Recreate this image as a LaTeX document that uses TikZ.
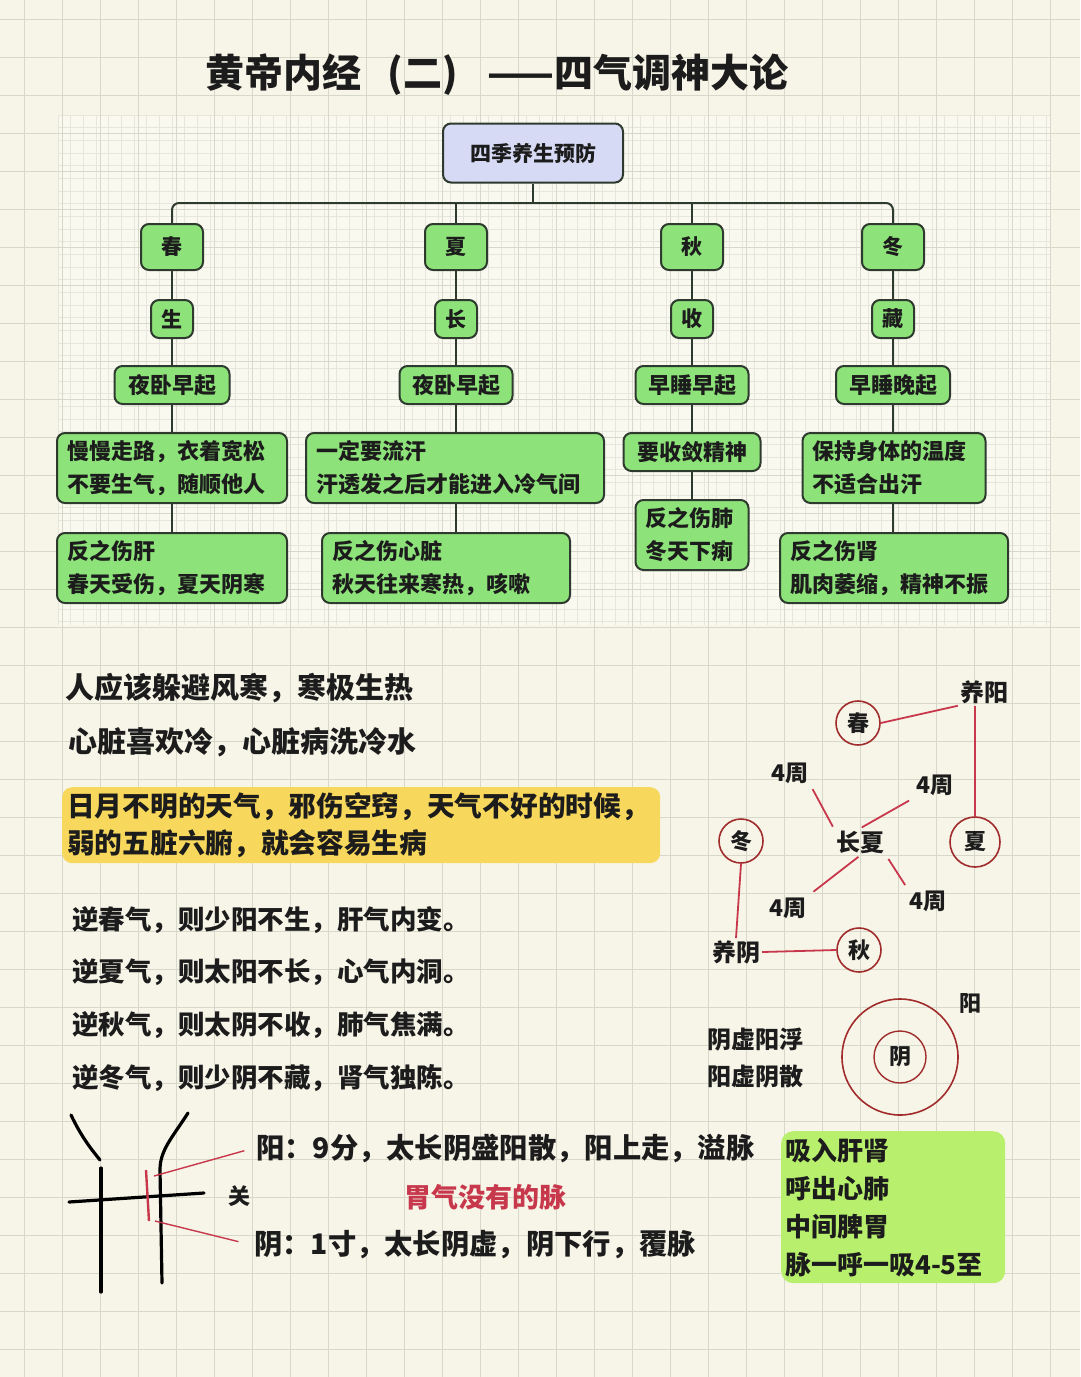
\documentclass[tikz,border=0pt]{standalone}
\usepackage{fontspec}
\setmainfont{Noto Sans CJK SC}
\usepackage{xcolor}
\usetikzlibrary{positioning,calc}

\definecolor{paper}{RGB}{247,245,232}
\definecolor{paperhi}{RGB}{250,249,240}
\definecolor{gridc}{RGB}{216,216,202}
\definecolor{finec}{RGB}{230,230,220}
\definecolor{leafgreen}{RGB}{142,226,122}
\definecolor{rootblue}{RGB}{214,218,244}
\definecolor{boxline}{RGB}{45,58,45}
\definecolor{noteyellow}{RGB}{248,216,92}
\definecolor{limegreen}{RGB}{184,240,110}
\definecolor{inkred}{RGB}{200,56,76}
\definecolor{ringred}{RGB}{160,44,44}
\definecolor{ink}{RGB}{28,28,28}

\newcommand{\pxsize}[2]{\fontsize{#1pt}{#2pt}\selectfont\bfseries}

\begin{document}
\begin{tikzpicture}[
  x=1pt, y=-1pt,
  every node/.style={text=ink},
  tbox/.style={draw=boxline, line width=2pt, fill=leafgreen, rounded corners=8pt,
    inner sep=0pt, font=\pxsize{21}{30}},
  season/.style={tbox, minimum width=62pt, minimum height=46pt},
  verb/.style={tbox, minimum width=42pt, minimum height=38pt},
  habit/.style={tbox, minimum height=38pt, font=\pxsize{22}{30}},
  tip/.style={tbox, align=left, inner xsep=10pt, minimum height=70pt, font=\pxsize{22}{33}},
  link/.style={draw=boxline, line width=2pt},
  gridline/.style={draw=gridc, line width=0.8pt},
  fineline/.style={draw=finec, line width=0.5pt},
  say/.style={anchor=west, inner sep=2pt},
  ring/.style={circle, draw=ringred, line width=1.6pt, minimum size=44pt, inner sep=0pt,
    font=\pxsize{22}{22}},
  plain/.style={inner sep=2pt, font=\pxsize{24}{24}},
  redline/.style={draw=inkred, line width=1.8pt},
  pulse/.style={draw=black, line width=3.2pt, line cap=round},
]

% paper and grid
\useasboundingbox (0,0) rectangle (1080,1377);
\fill[paper] (0,0) rectangle (1080,1377);
\fill[paperhi] (58,115) rectangle (1050,625);
\foreach \k in {0,...,78}
  \draw[fineline] ({58+\k*12.667},115) -- ({58+\k*12.667},625);
\foreach \k in {0,...,40}
  \draw[fineline] (58,{115+\k*12.667}) -- (1050,{115+\k*12.667});
\foreach \gx in {24,62,...,1062}
  \draw[gridline] (\gx,0) -- (\gx,1377);
\foreach \gy in {19,57,...,1349}
  \draw[gridline] (0,\gy) -- (1080,\gy);

% title
\node[font=\pxsize{39}{39}] (title) at (497,75)
  {黄帝内经\hspace{26pt}(二)\hspace{30pt}——四气调神大论};

% season tree
\node[tbox, fill=rootblue, minimum width=180pt, minimum height=59pt] (root) at (533,153) {四季养生预防};
\coordinate (bus) at (533,203);

\node[season] (chun) at (172,247) {春};
\node[season] (xia)  at (456,247) {夏};
\node[season] (qiu)  at (692,247) {秋};
\node[season] (dong) at (893,247) {冬};

\node[verb] (sheng) at (172,319) {生};
\node[verb] (zhang) at (456,319) {长};
\node[verb] (shou)  at (692,319) {收};
\node[verb] (cang)  at (893,319) {藏};

\node[habit, minimum width=115pt] (wo1) at (172,385) {夜卧早起};
\node[habit, minimum width=113pt] (wo2) at (456,385) {夜卧早起};
\node[habit, minimum width=113pt] (wo3) at (692,385) {早睡早起};
\node[habit, minimum width=114pt] (wo4) at (893,385) {早睡晚起};

\node[tip, text width=210pt] (do1) at (172,468) {慢慢走路，衣着宽松\\不要生气，随顺他人};
\node[tip, text width=278pt] (do2) at (455,468) {一定要流汗\\汗透发之后才能进入冷气间};
\node[habit, minimum width=137pt] (do3) at (692,452) {要收敛精神};
\node[tip, text width=163pt] (do4) at (894,468) {保持身体的温度\\不适合出汗};

\node[tip, text width=210pt] (hurt1) at (172,568) {反之伤肝\\春天受伤，夏天阴寒};
\node[tip, text width=228pt] (hurt2) at (446,568) {反之伤心脏\\秋天往来寒热，咳嗽};
\node[tip, text width=93pt]  (hurt3) at (692,535) {反之伤肺\\冬天下痢};
\node[tip, text width=208pt] (hurt4) at (894,568) {反之伤肾\\肌肉萎缩，精神不振};

\draw[link] (root) -- (bus);
\draw[link, rounded corners=7pt] (chun.north) |- (bus) -| (dong.north);
\draw[link] (xia.north) -- (xia.north |- bus);
\draw[link] (qiu.north) -- (qiu.north |- bus);
\draw[link] (chun) -- (sheng);
\draw[link] (sheng) -- (wo1);
\draw[link] (wo1) -- (do1);
\draw[link] (do1) -- (hurt1);
\draw[link] (xia) -- (zhang);
\draw[link] (zhang) -- (wo2);
\draw[link] (wo2) -- (wo2 |- do2.north);
\draw[link] (wo2 |- do2.south) -- (wo2 |- hurt2.north);
\draw[link] (qiu) -- (shou);
\draw[link] (shou) -- (wo3);
\draw[link] (wo3) -- (do3);
\draw[link] (do3) -- (hurt3);
\draw[link] (dong) -- (cang);
\draw[link] (cang) -- (wo4);
\draw[link] (wo4) -- (wo4 |- do4.north);
\draw[link] (wo4 |- do4.south) -- (wo4 |- hurt4.north);

% notes
\node[say, font=\pxsize{29}{29}] (cold) at (63,688) {人应该躲避风寒，寒极生热};
\node[say, font=\pxsize{29}{29}] (heart) at (66,742) {心脏喜欢冷，心脏病洗冷水};
\node[fill=noteyellow, rounded corners=10pt, anchor=north west, inner xsep=5pt, inner ysep=0pt,
  text width=588pt, minimum height=76pt, align=left, font=\pxsize{27.7}{37}] (evil) at (62,787)
  {日月不明的天气，邪伤空窍，天气不好的时候，\\弱的五脏六腑，就会容易生病};

\node[say, font=\pxsize{26.5}{26.5}] (ni1) at (70,920)  {逆春气，则少阳不生，肝气内变。};
\node[say, font=\pxsize{26.5}{26.5}] (ni2) at (70,972)  {逆夏气，则太阳不长，心气内洞。};
\node[say, font=\pxsize{26.5}{26.5}] (ni3) at (70,1025) {逆秋气，则太阴不收，肺气焦满。};
\node[say, font=\pxsize{26.5}{26.5}] (ni4) at (70,1078) {逆冬气，则少阴不藏，肾气独陈。};

% season cycle
\node[ring] (cchun) at (858,723) {春};
\node[ring] (cdong) at (741,841) {冬};
\node[ring, minimum size=50pt] (cxia) at (975,842) {夏};
\node[ring] (cqiu) at (859,950) {秋};
\node[plain] (yangy) at (984,692) {养阳};
\node[plain] (yiny)  at (736,952) {养阴};
\node[plain] (lxia)  at (860,842) {长夏};
\node[plain, font=\pxsize{23}{23}] (wk1) at (790,773) {4周};
\node[plain, font=\pxsize{23}{23}] (wk2) at (935,785) {4周};
\node[plain, font=\pxsize{23}{23}] (wk3) at (788,908) {4周};
\node[plain, font=\pxsize{23}{23}] (wk4) at (928,901) {4周};

\draw[redline] (cchun.east) -- (yangy.south west);
\draw[redline] (cxia.north) -- (cxia.north |- yangy.south);
\draw[redline] (cdong.south) -- (yiny.north);
\draw[redline] (yiny.east) -- (cqiu.west);
\draw[redline, shorten <=4pt, shorten >=2pt] (wk1.south east) -- (lxia.north west);
\draw[redline, shorten <=6pt, shorten >=2pt] (wk2.south west) -- (lxia.north);
\draw[redline, shorten <=2pt, shorten >=6pt] (lxia.south) -- (wk3.north east);
\draw[redline, shorten <=4pt, shorten >=4pt] (lxia.south east) -- (wk4.north west);

% yin yang
\node[plain] (xu1) at (755,1040) {阴虚阳浮};
\node[plain] (xu2) at (755,1077) {阳虚阴散};
\node[ring, minimum size=116pt] (yang) at (900,1057) {};
\node[ring, minimum size=52pt, line width=1.4pt] (yin) at (900,1057) {阴};
\node[plain, font=\pxsize{22}{22}] (yangl) at (970,1003) {阳};

% pulse sketch
\draw[pulse] (71,1115) .. controls (82,1138) and (92,1150) .. (100,1160);
\draw[pulse] (101,1168) -- (101,1292);
\draw[pulse] (188,1113) .. controls (172,1138) and (160,1150) .. (160,1170) -- (162,1283);
\draw[pulse] (69,1202) -- (204,1193);
\draw[redline, line width=2.4pt] (146,1170) -- (149,1221);
\coordinate (pup) at (154,1176);
\coordinate (pdn) at (155,1221);
\node[say, font=\pxsize{28.3}{28.3}] (yangm) at (254,1148) {阳：9分，太长阴盛阳散，阳上走，溢脉};
\node[say, font=\pxsize{28.3}{28.3}] (yinm) at (252,1245) {阴：1寸，太长阴虚，阴下行，覆脉};
\node[plain, font=\pxsize{22}{22}] (guan) at (239,1196) {关};
\node[plain, font=\pxsize{27}{27}, text=inkred] (wei) at (485,1197) {胃气没有的脉};
\draw[redline, line width=1.4pt, shorten >=10pt] (pup) -- (yangm.west);
\draw[redline, line width=1.4pt, shorten >=14pt] (pdn) -- (yinm.west);

\node[fill=limegreen, rounded corners=12pt, anchor=north west, inner xsep=4pt, inner ysep=0pt,
  text width=216pt, minimum height=152pt, align=left, font=\pxsize{26}{38}] (breath) at (781,1131)
  {吸入肝肾\\呼出心肺\\中间脾胃\\脉一呼一吸4-5至};

\end{tikzpicture}
\end{document}
